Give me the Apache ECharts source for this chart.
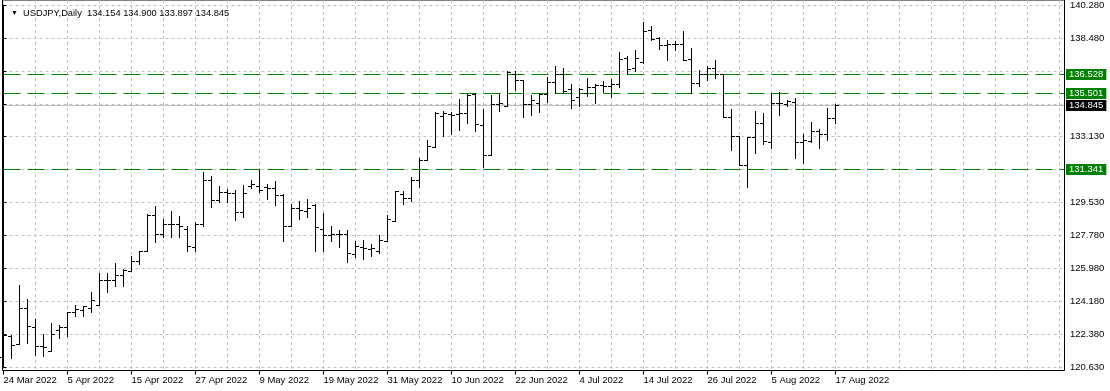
<!DOCTYPE html>
<html><head><meta charset="utf-8">
<script src="https://cdn.jsdelivr.net/npm/echarts@6/dist/echarts.min.js"></script>
<style>html,body{margin:0;padding:0;background:#fff}#c{width:1110px;height:391px}</style>
</head><body><div id="c"></div>
<script>
const symbolName = 'USDJPY';
const timeframe = 'Daily';
const dates = ['24 Mar 2022','25 Mar 2022','28 Mar 2022','29 Mar 2022','30 Mar 2022','31 Mar 2022',
'1 Apr 2022','4 Apr 2022','5 Apr 2022','6 Apr 2022','7 Apr 2022','8 Apr 2022','11 Apr 2022','12 Apr 2022','13 Apr 2022','14 Apr 2022','15 Apr 2022','18 Apr 2022','19 Apr 2022','20 Apr 2022','21 Apr 2022','22 Apr 2022','25 Apr 2022','26 Apr 2022','27 Apr 2022','28 Apr 2022','29 Apr 2022',
'2 May 2022','3 May 2022','4 May 2022','5 May 2022','6 May 2022','9 May 2022','10 May 2022','11 May 2022','12 May 2022','13 May 2022','16 May 2022','17 May 2022','18 May 2022','19 May 2022','20 May 2022','23 May 2022','24 May 2022','25 May 2022','26 May 2022','27 May 2022','30 May 2022','31 May 2022',
'1 Jun 2022','2 Jun 2022','3 Jun 2022','6 Jun 2022','7 Jun 2022','8 Jun 2022','9 Jun 2022','10 Jun 2022','13 Jun 2022','14 Jun 2022','15 Jun 2022','16 Jun 2022','17 Jun 2022','20 Jun 2022','21 Jun 2022','22 Jun 2022','23 Jun 2022','24 Jun 2022','27 Jun 2022','28 Jun 2022','29 Jun 2022','30 Jun 2022',
'1 Jul 2022','4 Jul 2022','5 Jul 2022','6 Jul 2022','7 Jul 2022','8 Jul 2022','11 Jul 2022','12 Jul 2022','13 Jul 2022','14 Jul 2022','15 Jul 2022','18 Jul 2022','19 Jul 2022','20 Jul 2022','21 Jul 2022','22 Jul 2022','25 Jul 2022','26 Jul 2022','27 Jul 2022','28 Jul 2022','29 Jul 2022',
'1 Aug 2022','2 Aug 2022','3 Aug 2022','4 Aug 2022','5 Aug 2022','8 Aug 2022','9 Aug 2022','10 Aug 2022','11 Aug 2022','12 Aug 2022','15 Aug 2022','16 Aug 2022','17 Aug 2022'];

const opens = [121.20,122.32,121.91,123.86,122.80,121.80,121.51,122.63,122.80,123.61,
123.72,123.86,124.02,125.38,125.38,125.65,125.88,126.37,126.95,128.91,
127.88,128.40,128.42,128.14,127.16,128.42,130.78,129.71,130.12,130.09,
129.06,130.45,130.48,130.39,130.36,129.96,128.27,129.29,129.13,129.44,
128.12,127.83,127.86,127.86,126.78,127.14,127.02,126.93,127.50,128.59,
130.03,129.81,130.79,131.87,132.59,134.25,134.36,134.36,134.42,135.46,
133.78,132.14,134.90,134.81,136.56,136.22,134.90,134.98,135.46,136.09,
136.56,135.72,135.30,135.50,135.84,135.93,135.88,136.02,137.39,136.85,
137.20,138.93,138.49,138.10,138.15,138.19,137.34,136.04,136.56,136.85,
136.53,134.18,133.17,131.60,133.10,133.87,132.83,134.94,134.90,135.00,
132.86,132.92,133.45,133.28,134.154];
const highs = [122.42,122.40,125.11,124.31,123.23,122.45,123.01,122.94,123.61,124.02,
123.97,124.69,125.77,125.77,126.31,125.97,126.68,126.96,128.95,129.40,
128.67,129.13,128.86,128.28,128.53,131.23,131.02,130.48,130.30,130.25,
130.54,130.78,131.33,130.57,130.75,130.03,129.49,129.63,129.76,129.49,
128.98,128.32,128.08,128.08,127.50,127.54,127.32,127.83,128.91,130.21,
130.21,130.97,131.98,132.95,134.49,134.51,134.45,135.17,135.44,135.53,
134.63,135.41,135.44,136.71,136.71,136.22,135.39,135.53,136.38,136.98,
136.85,135.99,135.80,136.33,135.99,136.17,136.29,137.74,137.52,137.83,
139.36,139.14,138.56,138.37,138.33,138.87,137.94,136.76,136.98,137.30,
136.53,134.63,133.17,133.13,134.54,134.42,135.50,135.57,135.14,135.26,
133.31,133.91,133.58,134.69,134.900];
const lows = [120.90,121.13,121.91,121.95,121.28,121.24,121.51,122.22,122.32,123.39,
123.41,123.62,123.99,124.71,125.05,125.03,125.88,126.24,126.95,127.41,
127.68,127.72,127.68,126.96,126.93,128.32,129.30,129.57,129.57,128.62,
128.77,130.36,130.12,129.76,129.45,127.50,128.27,128.68,128.80,126.96,
126.96,127.47,127.14,126.33,126.60,126.51,126.64,126.82,127.50,128.59,
129.49,129.63,130.39,131.87,132.59,133.15,133.31,133.51,133.86,133.46,
131.47,132.14,134.51,134.81,135.66,134.22,134.31,134.45,135.03,135.53,
135.50,134.72,134.78,135.32,134.94,135.57,135.30,135.84,136.53,136.71,
137.16,138.37,137.88,137.30,137.84,137.30,135.50,135.90,136.22,136.31,
134.18,132.43,131.60,130.39,132.23,132.74,132.50,134.31,134.81,131.96,
131.71,132.83,132.50,132.97,133.897];
const closes = [122.36,121.86,123.86,122.89,121.80,121.73,122.45,122.81,123.61,123.77,
123.97,124.26,125.38,125.38,125.65,125.93,126.37,126.95,128.90,127.88,
128.38,128.42,128.27,127.20,128.42,130.78,129.71,130.16,130.09,129.06,
130.09,130.56,130.25,130.36,129.96,128.27,129.29,129.17,129.25,128.24,
127.83,127.86,127.86,126.84,127.23,127.09,127.09,127.56,128.70,130.18,
129.81,130.79,131.87,132.65,134.43,134.43,134.33,134.42,135.39,133.84,
132.14,134.90,134.98,136.62,136.22,134.90,135.12,135.46,136.09,136.53,
135.60,135.12,135.71,135.84,135.93,135.88,136.02,137.34,136.80,137.39,
138.87,138.42,138.10,138.15,138.19,137.30,136.04,136.56,136.89,136.56,
134.18,133.17,131.60,133.10,133.89,132.92,134.94,134.98,135.05,132.86,
132.96,133.42,133.31,134.15,134.845];

// horizontal levels drawn on the chart
const levelLines = [136.528, 135.501, 131.341];
// right axis tick labels (bottom to top, one per grid row); blanks are hidden by level labels
const yTickLabels = ['120.630','122.380','124.180','125.980','127.780','129.530','','133.130','','','138.480','140.280'];
const priceMin = 120.630, priceMax = 140.280;
const futureSlots = 28;

const n = closes.length;
const last = n - 1;
const xCats = dates.concat(new Array(futureSlots).fill(''));
const ohlc = closes.map((c, i) => [i, opens[i], highs[i], lows[i], c]);

const FONT = 'Liberation Sans';
const FS = 9.5;
const GRID = '#c0c0c0';
const GREEN = '#008000';

// [price, kind] kind 0 = bid line, 1 = level line
const hlines = [[closes[last], 0]].concat(levelLines.map(v => [v, 1]));

function renderBar(params, api) {
  const i = api.value(0);
  const pO = api.coord([i, api.value(1)]);
  const pH = api.coord([i, api.value(2)]);
  const pL = api.coord([i, api.value(3)]);
  const pC = api.coord([i, api.value(4)]);
  const x = Math.floor(pO[0]) + 0.5;
  const yo = Math.round(pO[1]) + 0.5;
  const yc = Math.round(pC[1]) + 0.5;
  const st = { stroke: '#000', lineWidth: 1 };
  return {
    type: 'group',
    children: [
      { type: 'line', shape: { x1: x, y1: Math.round(pH[1]), x2: x, y2: Math.round(pL[1]) + 1 }, style: st },
      { type: 'line', shape: { x1: x - 3.5, y1: yo, x2: x - 0.5, y2: yo }, style: st },
      { type: 'line', shape: { x1: x + 0.5, y1: yc, x2: x + 3.5, y2: yc }, style: st }
    ]
  };
}

function renderHLine(params, api) {
  const v = api.value(0);
  const kind = api.value(1);
  const cs = params.coordSys;
  const y = Math.floor(api.coord([0, v])[1]) + 0.5;
  const isBid = kind === 0;
  const color = isBid ? GRID : GREEN;
  return {
    type: 'group',
    children: [
      { type: 'line', z2: isBid ? 0 : 1,
        shape: { x1: cs.x, y1: y, x2: cs.x + cs.width, y2: y },
        style: { stroke: color, lineWidth: 1, lineDash: isBid ? null : [17, 7] } },
      { type: 'text', x: cs.x + cs.width + 2, y: y, z2: 2,
        style: { text: v.toFixed(3), fill: '#fff', backgroundColor: isBid ? '#000' : GREEN,
                 padding: [1, 3, 0, 3], font: FS + 'px "' + FONT + '"', lineHeight: 10,
                 align: 'left', verticalAlign: 'middle' } }
    ]
  };
}

const labelEvery8 = (i, v) => i % 8 === 0 && v !== '';

const option = {
  animation: false,
  backgroundColor: '#fff',
  textStyle: { fontFamily: FONT },
  title: {
    left: 6, top: 4,
    text: '{tri|▼}  ' + symbolName + ',' + timeframe + '  ' +
      [opens[last], highs[last], lows[last], closes[last]].map(v => v.toFixed(3)).join(' '),
    textStyle: {
      fontFamily: FONT, fontSize: 9.3, fontWeight: 'normal', color: '#000',
      rich: { tri: { fontSize: 7, fontFamily: FONT, color: '#000' } }
    }
  },
  grid: [
    { left: 2.5, top: -1, right: 45.5, bottom: 20.5, show: true, borderColor: '#000', borderWidth: 1, backgroundColor: 'transparent' },
    { left: 3.5, top: 4.3, width: 1060.5, bottom: 23.7 },
    { left: 3.5, top: 0, width: 1056, bottom: 20.5 }
  ],
  xAxis: [
    { gridIndex: 0, type: 'value', show: false, min: 0, max: 1 },
    { gridIndex: 1, type: 'value', show: false, min: 0, max: 132.5625 },
    {
      gridIndex: 2, type: 'category', data: xCats, boundaryGap: false,
      axisLine: { show: false },
      axisTick: { show: true, interval: labelEvery8, length: 4, lineStyle: { color: '#000' } },
      axisLabel: { interval: labelEvery8, align: 'left', margin: 5, color: '#000', fontFamily: FONT, fontSize: FS },
      splitLine: { show: true, interval: (i) => i % 4 === 0, lineStyle: { color: GRID, type: [3, 3], width: 1 } }
    }
  ],
  yAxis: [
    { gridIndex: 0, type: 'value', show: false, min: 0, max: 1 },
    {
      gridIndex: 1, type: 'value', position: 'right', min: 0, max: yTickLabels.length - 1, interval: 1,
      axisLine: { show: true, lineStyle: { color: '#000' } },
      axisTick: { show: true, length: 3, lineStyle: { color: '#000' } },
      axisLabel: { formatter: (v) => yTickLabels[Math.round(v)] || '', margin: 6, color: '#000', fontFamily: FONT, fontSize: FS },
      splitLine: { show: true, lineStyle: { color: GRID, type: [3, 3], width: 1 } }
    },
    { gridIndex: 1, type: 'value', show: false, min: priceMin, max: priceMax },
    { gridIndex: 2, type: 'value', show: false, min: 0, max: 1 }
  ],
  series: [
    {
      type: 'custom', name: 'levels',
      xAxisIndex: 1, yAxisIndex: 2,
      data: hlines,
      encode: { y: 0 },
      renderItem: renderHLine,
      clip: false, silent: true,
      z: 3
    },
    {
      type: 'custom', name: symbolName,
      xAxisIndex: 1, yAxisIndex: 2,
      data: ohlc,
      encode: { x: 0, y: [1, 2, 3, 4] },
      renderItem: renderBar,
      clip: false, silent: true,
      z: 5
    }
  ]
};

const chart = echarts.init(document.getElementById('c'));
chart.setOption(option);
</script>
</body></html>
